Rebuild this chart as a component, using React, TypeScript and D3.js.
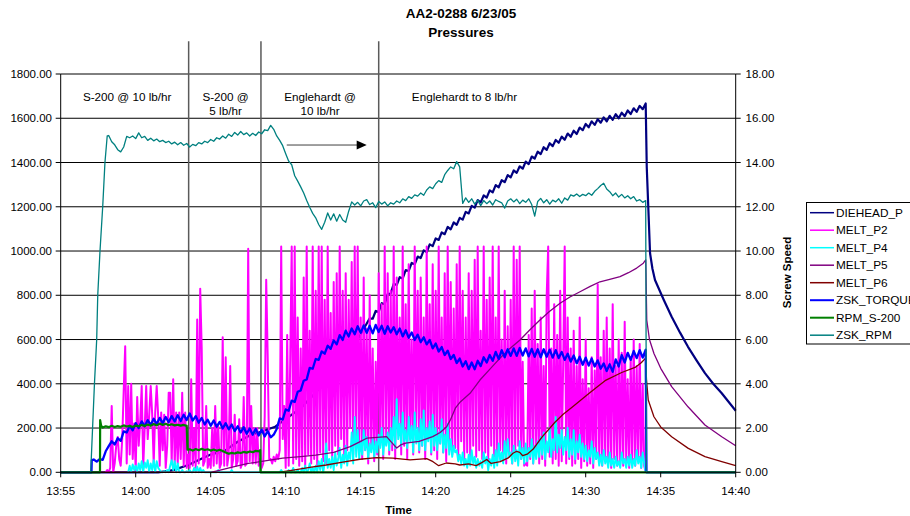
import React, { useEffect, useRef } from "react";
import * as d3 from "d3";

// all times are minutes after 13:55 on 6/23/05
const T0 = new Date(2005, 5, 23, 13, 55).getTime();
const T_END = 45;

const pressureTicks = [0, 200, 400, 600, 800, 1000, 1200, 1400, 1600, 1800];
const speedTicks = [0, 2, 4, 6, 8, 10, 12, 14, 16, 18];
const timeTicks = [0, 5, 10, 15, 20, 25, 30, 35, 40, 45];

const legendNames = ["DIEHEAD_P", "MELT_P2", "MELT_P4", "MELT_P5", "MELT_P6", "ZSK_TORQUE", "RPM_S-200", "ZSK_RPM"];

// process change markers
const eventTimes = [8.53, 13.35, 21.2];
const phaseLabels = [["S-200 @ 10 lb/hr"], ["S-200 @", "5 lb/hr"], ["Englehardt @", "10 lb/hr"], ["Englehardt to 8 lb/hr"]];
const phaseLabelTimes = [4.43, 10.99, 17.29, 26.92];
const arrowTimes = [15.07, 20.4];

// logged every 0.1 min
const meltP2Start = 3.0;
const meltP2 = [
  0, 10, 0, 20, 300, 0, 40, 120, 160, 60,
  30, 150, 370, 570, 40, 390, 80, 400, 60, 220,
  10, 340, 120, 230, 390, 20, 200, 390, 150, 260,
  390, 260, 40, 270, 390, 250, 30, 270, 100, 260,
  20, 120, 360, 360, 40, 420, 30, 270, 40, 270,
  60, 360, 30, 270, 20, 80, 20, 420, 30, 200,
  20, 690, 40, 830, 560, 30, 50, 300, 20, 60,
  20, 200, 30, 300, 40, 210, 20, 40, 610, 30,
  520, 30, 80, 480, 20, 60, 260, 30, 50, 240,
  20, 40, 340, 30, 40, 1010, 50, 300, 40, 200,
  40, 200, 30, 60, 20, 40, 250, 870, 520, 60,
  60, 40, 70, 50, 80, 60, 100, 1020, 150, 300,
  20, 620, 30, 500, 1020, 40, 1020, 60, 700, 30,
  560, 50, 880, 30, 1020, 80, 640, 40, 1020, 60,
  820, 30, 1020, 90, 1020, 50, 780, 40, 1020, 100,
  720, 60, 860, 120, 900, 80, 1020, 150, 820, 60,
  900, 100, 780, 200, 950, 80, 1020, 150, 1020, 90,
  700, 60, 880, 100, 650, 40, 800, 120, 560, 50,
  500, 80, 900, 120, 760, 60, 1020, 150, 900, 80,
  820, 100, 1020, 60, 880, 200, 700, 80, 1020, 120,
  760, 60, 940, 150, 600, 80, 1020, 200, 820, 90,
  880, 120, 700, 60, 1020, 150, 760, 80, 940, 100,
  820, 60, 1020, 130, 700, 90, 900, 50, 1020, 120,
  860, 80, 740, 110, 940, 60, 1020, 140, 820, 60,
  700, 90, 900, 50, 820, 120, 960, 70, 1020, 100,
  640, 60, 1020, 90, 780, 40, 880, 120, 1020, 70,
  700, 50, 1020, 100, 600, 60, 820, 40, 660, 90,
  780, 40, 1020, 80, 960, 120, 1020, 60, 500, 30,
  40, 30, 620, 60, 740, 40, 820, 80, 580, 40,
  700, 60, 480, 30, 800, 1020, 70, 560, 40, 760,
  60, 620, 30, 820, 50, 500, 1020, 40, 700, 60,
  560, 30, 640, 40, 480, 60, 700, 20, 420, 50,
  600, 30, 380, 40, 520, 20, 460, 60, 850, 40,
  520, 30, 640, 50, 700, 40, 560, 20, 760, 60,
  480, 30, 600, 40, 540, 30, 680, 50, 420, 20,
  520, 40, 600, 30, 480, 50, 580, 20, 400, 30,
  0,
];

const meltP4Start = 4.5;
const meltP4 = [
  0, 30, 0, 35, 10,
  30, 0, 40, 10, 50, 0, 45, 20, 55, 0,
  40, 10, 55, 0, 50, 20, 10, 0, 0, 5,
  0, 10, 0, 30, 55, 10, 50, 0, 40, 0,
  0, 10, 0, 0, 5, 0, 10, 0, 0, 20,
  0, 25, 0, 20, 0, 10, 0, 0, 0, 0,
  0, 0, 0, 0, 0, 10, 0, 0, 0, 0,
  0, 0, 0, 0, 10, 0, 0, 0, 0, 0,
  0, 0, 0, 0, 0, 0, 0, 0, 0, 0,
  0, 0, 0, 0, 0, 0, 0, 0, 0, 0,
  0, 0, 0, 0, 0, 0, 0, 10, 0, 0,
  0, 0, 10, 0, 0, 20, 0, 0, 10, 0,
  0, 20, 0, 30, 0, 10, 40, 0, 20, 0,
  30, 0, 50, 10, 60, 0, 40, 130, 20, 60,
  20, 70, 10, 90, 30, 60, 110, 20, 80, 40,
  120, 30, 90, 60, 180, 40, 250, 70, 190, 60,
  140, 80, 190, 100, 160, 60, 130, 90, 150, 70,
  140, 90, 170, 110, 200, 80, 160, 120, 180, 100,
  200, 130, 250, 110, 330, 150, 220, 120, 270, 140,
  190, 110, 250, 140, 210, 90, 270, 130, 200, 100,
  240, 120, 280, 100, 200, 140, 230, 90, 260, 120,
  200, 100, 180, 130, 240, 90, 170, 110, 220, 80,
  150, 70, 120, 90, 100, 50, 80, 40, 90, 30,
  60, 20, 80, 30, 100, 40, 70, 20, 60, 30,
  50, 20, 90, 40, 70, 10, 60, 30, 80, 20,
  100, 30, 130, 50, 90, 40, 140, 60, 150, 70,
  90, 40, 120, 50, 100, 30, 140, 60, 110, 40,
  130, 50, 110, 70, 150, 40, 120, 60, 140, 70,
  160, 80, 180, 60, 140, 90, 200, 70, 150, 100,
  250, 90, 170, 110, 190, 80, 160, 100, 200, 70,
  150, 80, 190, 60, 140, 90, 170, 70, 130, 60,
  120, 50, 100, 70, 140, 40, 110, 60, 90, 30,
  80, 30, 100, 40, 70, 20, 90, 30, 60, 20,
  70, 30, 50, 20, 90, 40, 60, 20, 70, 30,
  80, 20, 60, 30, 100, 40, 70, 20, 90, 40,
  0,
];

// logged every 0.2 min
const torqueStart = 2.2;
const zskTorque = [
  58, 48, 60, 56, 95, 118, 140, 126, 154, 142,
  185, 180, 210, 190, 222, 200, 230, 208, 236, 214,
  242, 218, 246, 222, 250, 226, 254, 230, 258, 232,
  260, 236, 266, 234, 254, 224, 246, 216, 238, 210,
  234, 206, 228, 198, 222, 194, 216, 186, 208, 180,
  204, 174, 198, 170, 196, 166, 192, 162, 186, 158,
  170, 196, 244, 238, 284, 278, 324, 318, 364, 370,
  414, 420, 472, 468, 512, 508, 546, 536, 572, 558,
  596, 578, 620, 598, 640, 614, 650, 624, 660, 630,
  664, 630, 662, 628, 666, 634, 662, 626, 660, 632,
  656, 624, 650, 614, 642, 608, 632, 598, 622, 588,
  610, 578, 598, 560, 582, 546, 566, 530, 550, 512,
  530, 494, 514, 478, 502, 466, 496, 466, 504, 480,
  520, 496, 530, 504, 544, 512, 552, 520, 556, 526,
  560, 526, 562, 528, 560, 524, 558, 522, 556, 520,
  556, 522, 554, 518, 552, 516, 544, 508, 536, 500,
  528, 492, 522, 486, 518, 482, 514, 478, 506, 468,
  492, 458, 488, 454, 510, 478, 530, 496, 540, 508,
  548, 516, 552, 518, 554,
];

const zskRpmStart = 3.2;
const zskRpm = [
  15.22, 14.94, 14.8, 14.58, 14.48, 14.7, 15.18, 15.12, 15.2, 15.08,
  15.34, 15.12, 15.18, 15.0, 15.1, 14.98, 15.06, 14.94, 15.0, 14.9,
  14.96, 14.84, 14.92, 14.8, 14.9, 14.78, 14.86, 14.7, 14.82, 14.76,
  14.9, 14.84, 14.96, 14.9, 15.04, 14.96, 15.12, 15.06, 15.2, 15.1,
  15.28, 15.18, 15.36, 15.24, 15.4, 15.26, 15.34, 15.2, 15.32, 15.22,
  15.38, 15.3, 15.48, 15.44, 15.68, 15.5, 15.2, 15.0, 14.76, 14.4,
  14.06, 13.9, 13.4, 13.16, 12.9, 12.62, 12.28, 11.98, 11.7, 11.5,
  11.2, 10.98, 11.3, 11.72, 11.4, 11.68, 11.35, 11.65, 11.4, 11.3,
  11.8, 12.22, 12.08, 12.2, 12.04, 12.26, 12.32, 12.1, 12.18, 11.96,
  12.24, 12.12, 12.22, 12.04, 12.18, 12.12, 12.26, 12.18, 12.36, 12.28,
  12.46, 12.38, 12.54, 12.48, 12.62, 12.52, 12.76, 12.9, 12.82, 13.04,
  13.18, 13.1, 13.45, 13.64, 13.8, 13.72, 14.04, 13.8, 12.15, 12.4,
  12.2, 12.36, 12.12, 12.3, 12.05, 12.28, 12.14, 12.26, 12.08, 12.32,
  12.24, 12.18, 11.94, 12.26, 12.36, 12.22, 12.34, 12.14, 12.3, 12.2,
  12.36, 12.1, 11.58, 12.24, 12.38, 12.18, 12.32, 12.12, 12.3, 12.22,
  12.36, 12.16, 12.4, 12.3, 12.54, 12.48, 12.58, 12.46, 12.56, 12.5,
  12.62, 12.52, 12.7, 12.82, 12.96, 13.06, 12.8, 12.68, 12.5, 12.62,
  12.44, 12.56, 12.4, 12.5, 12.36, 12.46, 12.26, 12.32, 12.2, 12.28,
];
const zskRpmRamp = [[0, 0], [2.0, 0], [2.25, 4.0], [2.4, 6.0], [2.47, 8.0], [2.62, 10.0], [2.8, 12.0], [2.95, 14.0], [3.1, 15.2]];

const rpmS200HighStart = 2.8;
const rpmS200High = [
  2.02, 2.08, 2.04, 2.1, 2.05, 2.09, 2.06, 2.12, 2.07, 2.1,
  2.05, 2.11, 2.08, 2.14, 2.09, 2.16, 2.1, 2.18, 2.12, 2.2,
  2.14, 2.19, 2.13, 2.17, 2.12, 2.15, 2.11, 2.14, 2.1,
];
const rpmS200LowStart = 8.6;
const rpmS200Low = [
  1.04, 0.98, 1.05, 1.0, 1.06, 1.01, 1.04, 0.98, 1.03, 0.97,
  1.02, 0.96, 0.9, 0.84, 0.88, 0.85, 0.9, 0.87, 0.92, 0.89,
  0.94, 0.91, 0.97, 0.95,
];

// die head pressure: sparse early readings, then logged every 0.2 min
const dieheadEarly = [
  [0, 0], [6.5, 0], [7.5, 10], [8.5, 33], [9.2, 56], [10, 80], [11, 100], [11.8, 138], [12.7, 170],
  [13.4, 184], [14.3, 206], [15, 240], [16, 290], [17, 360], [18.2, 452], [19.1, 500], [19.8, 600],
];
const dieheadStart = 20.6;
const dieheadLogged = [
  696, 694, 729, 725, 764, 760, 805, 808, 852, 846,
  882, 876, 914, 910, 946, 940, 975, 968, 1003, 995,
  1030, 1022, 1057, 1050, 1084, 1076, 1109, 1098, 1129, 1118,
  1150, 1142, 1177, 1170, 1204, 1196, 1230, 1220, 1251, 1241,
  1274, 1265, 1298, 1288, 1320, 1311, 1343, 1333, 1364, 1353,
  1383, 1372, 1404, 1393, 1427, 1418, 1449, 1438, 1469, 1457,
  1487, 1474, 1502, 1489, 1517, 1503, 1531, 1516, 1544, 1529,
  1558, 1546, 1574, 1559, 1586, 1570, 1596, 1580, 1604, 1586,
  1611, 1593, 1618, 1600, 1625, 1609, 1635, 1619, 1645, 1629,
  1656, 1641, 1667,
];
const dieheadDecay = [
  [39.07, 1380], [39.29, 990], [39.45, 920], [39.62, 869], [40.2, 780], [40.73, 703],
  [41.3, 630], [41.82, 567], [42.4, 505], [42.95, 448], [43.5, 400], [44.07, 357], [45, 278],
];

const meltP5 = [
  [0, 0], [10, 0], [10.5, 8], [11.5, 25], [12.5, 40], [13.3, 48], [14.8, 64], [16, 71], [17, 78],
  [18.2, 90], [19.3, 116], [20, 140], [20.4, 154], [21.1, 158], [21.73, 161], [22.0, 140], [22.4, 110],
  [22.7, 125], [23.0, 132], [23.9, 140], [24.8, 161], [25.3, 180], [25.73, 206], [26.0, 240],
  [26.31, 290], [26.6, 315], [27.29, 357], [27.95, 417], [28.6, 465], [29.29, 516], [29.95, 560],
  [30.62, 598], [31.3, 645], [31.95, 688], [32.6, 728], [33.29, 764], [33.95, 792], [34.62, 816],
  [35.3, 840], [35.95, 861], [36.6, 872], [37.29, 884], [37.85, 902], [38.4, 923], [38.84, 945],
  [39.0, 960], [39.02, 900], [39.07, 688], [39.25, 600], [39.55, 537], [40.0, 470], [40.73, 387],
  [41.82, 296], [42.95, 214], [44.07, 161], [45, 120],
];

const meltP6 = [
  [0, 0], [14.5, 0], [15.5, 10], [16.6, 22], [17.7, 33], [18.8, 46], [19.95, 59], [21.06, 66],
  [22.15, 64], [23.29, 56], [24.4, 62], [24.82, 48], [25.2, 30], [25.7, 42], [26.3, 38], [26.6, 33],
  [27.2, 38], [27.7, 30], [28.1, 45], [28.4, 58], [28.7, 40], [29.3, 48], [29.84, 65], [30.15, 86],
  [30.4, 95], [30.6, 90], [30.8, 75], [31.1, 82], [31.5, 105], [32.07, 158], [32.95, 226], [33.5, 262],
  [34.07, 293], [35.17, 354], [35.8, 388], [36.29, 414], [37.4, 451], [38.29, 474], [38.7, 495],
  [39.0, 516], [39.05, 420], [39.17, 327], [39.55, 251], [40.0, 205], [40.73, 161], [41.84, 108],
  [42.95, 71], [44.07, 48], [45, 30],
];

const sampled = (start: number, step: number, vals: number[]) => vals.map((v, i) => [start + i * step, v]);

const App = () => {
  const chartRef = useRef<SVGSVGElement>(null);

  useEffect(() => {
    const svg = d3.select(chartRef.current);
    svg.selectAll("*").remove();
    const font = "'Liberation Sans', Arial, sans-serif";

    const left = 60.7, right = 735.7, top = 74, bottom = 472.3;
    const x = d3.scaleTime()
      .domain([new Date(T0), new Date(T0 + T_END * 60000)])
      .range([left, right]);
    const xm = (m: number) => x(new Date(T0 + m * 60000));
    const yP = d3.scaleLinear().domain([0, 1800]).range([bottom, top]);
    const yS = d3.scaleLinear().domain([0, 18]).range([bottom, top]);

    // grid
    svg.append("g").selectAll("line")
      .data(pressureTicks.slice(1))
      .enter().append("line")
      .attr("x1", left).attr("x2", right)
      .attr("y1", d => yP(d)).attr("y2", d => yP(d))
      .attr("stroke", "#000").attr("stroke-width", 1);

    // phase markers
    svg.append("g").selectAll("line")
      .data(eventTimes)
      .enter().append("line")
      .attr("x1", d => xm(d)).attr("x2", d => xm(d))
      .attr("y1", yP(1948)).attr("y2", bottom)
      .attr("stroke", "#5a5a5a").attr("stroke-width", 1.5);

    const series = [
      { data: [...dieheadEarly, ...sampled(dieheadStart, 0.2, dieheadLogged), ...dieheadDecay], y: yP, color: "#000080", w: 2.2 },
      { data: sampled(meltP2Start, 0.1, meltP2), y: yP, color: "#FF00FF", w: 2 },
      { data: sampled(meltP4Start, 0.1, meltP4), y: yP, color: "#00FFFF", w: 1.9 },
      { data: meltP5, y: yP, color: "#800080", w: 1.3 },
      { data: meltP6, y: yP, color: "#800000", w: 1.3 },
      { data: [[0, 0], [2.05, 0], [2.07, 55], ...sampled(torqueStart, 0.2, zskTorque), [39.05, 0], [T_END, 0]], y: yP, color: "#0000FF", w: 2.3 },
      { data: [[0, 0], [2.62, 0], [2.63, 2.36], [2.7, 2.1], ...sampled(rpmS200HighStart, 0.2, rpmS200High), [8.45, 1.02], ...sampled(rpmS200LowStart, 0.2, rpmS200Low), [13.3, 1.0], [13.32, 0], [T_END, 0]], y: yS, color: "#008000", w: 2.2 },
      { data: [...zskRpmRamp, ...sampled(zskRpmStart, 0.2, zskRpm), [39.05, 0], [T_END, 0]], y: yS, color: "#008080", w: 1.3 },
    ];

    series.forEach(s => {
      const line = d3.line<number[]>()
        .x(d => xm(d[0]))
        .y(d => s.y(d[1]));
      svg.append("path")
        .datum(s.data)
        .attr("d", line)
        .attr("fill", "none")
        .attr("stroke", s.color)
        .attr("stroke-width", s.w)
        .attr("stroke-linejoin", "round");
    });

    // axes
    const axes = svg.append("g").attr("stroke", "#000").attr("stroke-width", 1);
    axes.append("line").attr("x1", left).attr("x2", left).attr("y1", top).attr("y2", bottom);
    axes.append("line").attr("x1", right).attr("x2", right).attr("y1", top).attr("y2", bottom);
    axes.append("line").attr("x1", left).attr("x2", right).attr("y1", bottom).attr("y2", bottom);
    pressureTicks.forEach(t => {
      axes.append("line").attr("x1", left - 5).attr("x2", left).attr("y1", yP(t)).attr("y2", yP(t));
      axes.append("line").attr("x1", right).attr("x2", right + 5).attr("y1", yP(t)).attr("y2", yP(t));
    });
    timeTicks.forEach(t => {
      axes.append("line").attr("x1", xm(t)).attr("x2", xm(t)).attr("y1", bottom).attr("y2", bottom + 5);
    });

    const fmt = d3.format(".2f");
    const tf = d3.timeFormat("%H:%M");
    svg.append("g").selectAll("text").data(pressureTicks).enter().append("text")
      .attr("x", 52).attr("y", d => yP(d)).attr("dy", "0.35em")
      .attr("text-anchor", "end").attr("font-family", font).attr("font-size", 11.5)
      .text(d => fmt(d));
    svg.append("g").selectAll("text").data(speedTicks).enter().append("text")
      .attr("x", 745.5).attr("y", d => yS(d)).attr("dy", "0.35em")
      .attr("text-anchor", "start").attr("font-family", font).attr("font-size", 11.5)
      .text(d => fmt(d));
    svg.append("g").selectAll("text").data(timeTicks).enter().append("text")
      .attr("x", d => xm(d)).attr("y", 495)
      .attr("text-anchor", "middle").attr("font-family", font).attr("font-size", 11.5)
      .text(d => tf(new Date(T0 + d * 60000)));

    // titles
    svg.append("text").attr("x", 461).attr("y", 18).attr("text-anchor", "middle")
      .attr("font-family", font).attr("font-size", 13.5).attr("font-weight", "bold")
      .text("AA2-0288 6/23/05");
    svg.append("text").attr("x", 461).attr("y", 36.5).attr("text-anchor", "middle")
      .attr("font-family", font).attr("font-size", 13.5).attr("font-weight", "bold")
      .text("Pressures");
    svg.append("text").attr("x", 398.5).attr("y", 513.5).attr("text-anchor", "middle")
      .attr("font-family", font).attr("font-size", 11.5).attr("font-weight", "bold")
      .text("Time");
    svg.append("text")
      .attr("transform", "translate(791,272.5) rotate(-90)")
      .attr("text-anchor", "middle")
      .attr("font-family", font).attr("font-size", 11.5).attr("font-weight", "bold")
      .text("Screw Speed");

    // phase notes
    phaseLabels.forEach((lines, i) => {
      lines.forEach((ln, j) => {
        svg.append("text")
          .attr("x", xm(phaseLabelTimes[i])).attr("y", 100.5 + j * 14)
          .attr("text-anchor", "middle").attr("font-family", font).attr("font-size", 11.7)
          .text(ln);
      });
    });
    const ay = yP(1479);
    svg.append("line")
      .attr("x1", xm(arrowTimes[0])).attr("x2", xm(arrowTimes[1]) - 9)
      .attr("y1", ay).attr("y2", ay)
      .attr("stroke", "#404040").attr("stroke-width", 1);
    const ax = xm(arrowTimes[1]);
    svg.append("path")
      .attr("d", `M${ax},${ay} L${ax - 10},${ay - 4.5} L${ax - 10},${ay + 4.5} Z`)
      .attr("fill", "#000");

    // legend
    const lg = svg.append("g");
    lg.append("rect").attr("x", 806.5).attr("y", 202.5).attr("width", 120).attr("height", 141.5)
      .attr("fill", "#fff").attr("stroke", "#000").attr("stroke-width", 1);
    legendNames.forEach((n, i) => {
      const yy = 212.7 + i * 17.5;
      lg.append("line").attr("x1", 810).attr("x2", 834).attr("y1", yy).attr("y2", yy)
        .attr("stroke", series[i].color).attr("stroke-width", i === 5 || i === 6 ? 2 : 1.5);
      lg.append("text").attr("x", 836).attr("y", yy).attr("dy", "0.36em")
        .attr("font-family", font).attr("font-size", 11.8)
        .text(n);
    });
  }, []);

  return (
    <div style={{ position: "absolute", left: 0, top: 0 }}>
      <svg ref={chartRef} width={910} height={516} style={{ display: "block", background: "#fff" }}></svg>
    </div>
  );
};

export default App;
